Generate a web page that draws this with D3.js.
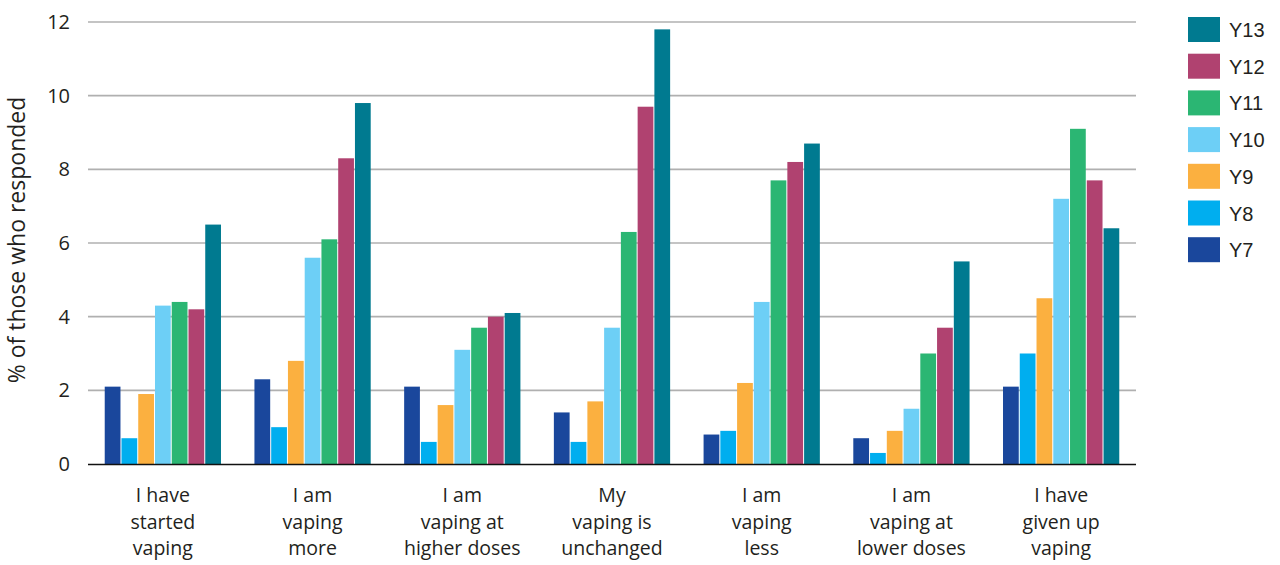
<!DOCTYPE html>
<html><head><meta charset="utf-8">
<script src="https://cdn.jsdelivr.net/npm/d3@7"></script>
<style>body{margin:0;background:#fff;}svg{display:block;font-family:"Open Sans",sans-serif;}</style>
</head><body><svg id="c" width="1280" height="565"></svg>
<script>
const categories = [
  ["I have","started","vaping"],
  ["I am","vaping","more"],
  ["I am","vaping at","higher doses"],
  ["My","vaping is","unchanged"],
  ["I am","vaping","less"],
  ["I am","vaping at","lower doses"],
  ["I have","given up","vaping"]
];
const seriesNames = ["Y7","Y8","Y9","Y10","Y11","Y12","Y13"];
const seriesColors = ["#1a479c","#00aeef","#fbb040","#6dcff6","#2bb673","#b04270","#007a90"];
const Y7  = [2.1, 2.3, 2.1, 1.4, 0.8, 0.7, 2.1];
const Y8  = [0.7, 1.0, 0.6, 0.6, 0.9, 0.3, 3.0];
const Y9  = [1.9, 2.8, 1.6, 1.7, 2.2, 0.9, 4.5];
const Y10 = [4.3, 5.6, 3.1, 3.7, 4.4, 1.5, 7.2];
const Y11 = [4.4, 6.1, 3.7, 6.3, 7.7, 3.0, 9.1];
const Y12 = [4.2, 8.3, 4.0, 9.7, 8.2, 3.7, 7.7];
const Y13 = [6.5, 9.8, 4.1, 11.8, 8.7, 5.5, 6.4];
const yTicks = [0,2,4,6,8,10,12];
const yTitle = "% of those who responded";

const seriesValues = [Y7,Y8,Y9,Y10,Y11,Y12,Y13];
const svg = d3.select("#c");
const m = {left:88, right:1136, top:22, bottom:464};
const x0 = d3.scaleBand().domain(d3.range(categories.length)).range([m.left, m.right]).paddingInner(0.21).paddingOuter(0.105);
const x1 = d3.scaleBand().domain(d3.range(seriesNames.length)).range([0, x0.bandwidth()]).padding(0.06);
const y = d3.scaleLinear().domain([0,12]).range([m.bottom, m.top]);

// grid
svg.append("g").selectAll("line").data(yTicks.filter(t=>t>0)).join("line")
  .attr("x1", m.left).attr("x2", m.right)
  .attr("y1", d=>y(d)).attr("y2", d=>y(d))
  .attr("stroke", "#b0b0b0").attr("stroke-width", 1.6);

// y axis labels
const yAxis = d3.axisLeft(y).tickValues(yTicks).tickSize(0).tickPadding(18);
const ya = svg.append("g").attr("transform", `translate(${m.left},0)`).call(yAxis);
ya.select(".domain").remove();
ya.selectAll("text").attr("font-size", 20).attr("fill", "#231f20").attr("font-family","Open Sans");

// bars
const groups = svg.append("g").selectAll("g").data(categories.map((c,i)=>i)).join("g")
  .attr("transform", i=>`translate(${x0(i)},0)`);
groups.selectAll("rect").data(i => seriesValues.map((s,k)=>({k, v:s[i]}))).join("rect")
  .attr("x", d=>x1(d.k)).attr("width", x1.bandwidth())
  .attr("y", d=>y(d.v)).attr("height", d=>y(0)-y(d.v))
  .attr("fill", d=>seriesColors[d.k]);

// baseline
svg.append("line").attr("x1", m.left).attr("x2", m.right).attr("y1", y(0)+0.5).attr("y2", y(0)+0.5)
  .attr("stroke", "#111").attr("stroke-width", 1.5);

// x labels
const xl = svg.append("g");
categories.forEach((lines,i)=>{
  const cx = x0(i)+x0.bandwidth()/2;
  const t = xl.append("text").attr("x", cx).attr("y", 502)
    .attr("text-anchor","middle").attr("font-size",19.5).attr("fill","#231f20");
  lines.forEach((ln,j)=>t.append("tspan").attr("x", cx).attr("y", 502+j*26.5).text(ln));
});

// y title
svg.append("text").attr("transform","translate(25,240) rotate(-90)").attr("text-anchor","middle")
  .attr("font-size",23).attr("fill","#231f20").text(yTitle);

// legend (reversed)
const leg = svg.append("g").attr("transform","translate(1188,17)");
const order = d3.range(seriesNames.length).reverse();
order.forEach((k,j)=>{
  leg.append("rect").attr("x",0).attr("y",j*36.7).attr("width",32).attr("height",25).attr("fill",seriesColors[k]);
  leg.append("text").attr("x",41).attr("y",j*36.7+20).attr("font-size",20).attr("font-family","Liberation Sans, Arial, sans-serif")
    .attr("fill","#231f20").text(seriesNames[k]);
});
</script></body></html>
